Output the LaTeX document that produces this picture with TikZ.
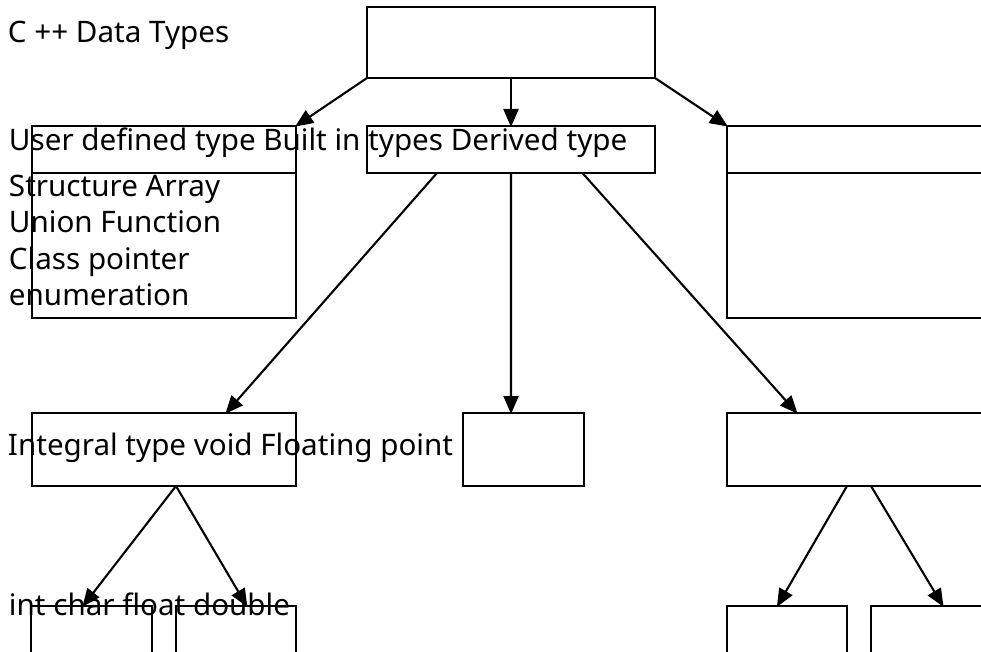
\documentclass[tikz,border=0pt]{standalone}
\usepackage{fontspec}
\setmainfont{Noto Sans}
\usetikzlibrary{arrows.meta,calc}
\begin{document}
\begin{tikzpicture}[x=1pt,y=-1pt,
  box/.style={draw,line width=2.1pt,rectangle,inner sep=0pt,outer sep=0pt,anchor=north west},
  lbl/.style={anchor=base west,inner sep=0pt,outer sep=0pt,font=\fontsize{29.6}{36}\selectfont},
  conn/.style={line width=2.1pt,-{Triangle[length=18pt,width=15pt]},shorten >=-1pt}]
\clip (0,0) rectangle (981,652);
\fill[white] (0,0) rectangle (981,652);
% boxes
\node[box,minimum width=288,minimum height=71] (top) at (367,7) {};
\node[box,minimum width=264,minimum height=192] (user) at (32,126) {};
\node[box,minimum width=288,minimum height=47] (builtin) at (367,126) {};
\node[box,minimum width=270,minimum height=192] (derived) at (727,126) {};
\node[box,minimum width=264,minimum height=73] (integral) at (32,413) {};
\node[box,minimum width=121,minimum height=73] (void) at (463,413) {};
\node[box,minimum width=270,minimum height=73] (floating) at (727,413) {};
\node[box,minimum width=121,minimum height=60] (int) at (31,606) {};
\node[box,minimum width=120,minimum height=60] (double) at (176,606) {};
\node[box,minimum width=120,minimum height=60] (bl) at (727,606) {};
\node[box,minimum width=120,minimum height=60] (br) at (871,606) {};
\coordinate (div) at (0,173);
\draw[line width=2.1pt] (user.west |- div) -- (user.east |- div);
\draw[line width=2.1pt] (derived.west |- div) -- (derived.east |- div);
% texts
\node[lbl] (title) at (8,43) {C ++ Data Types};
\node[lbl] (row1) at (9,151) {User defined type Built in types Derived type};
\node[lbl] (l1) at (9,197) {Structure Array};
\node[lbl] (l2) at (9,233) {Union Function};
\node[lbl] (l3) at (9,269) {Class pointer};
\node[lbl] (l4) at (9,305) {enumeration};
\node[lbl] (row2) at (8,455) {Integral type void Floating point};
\node[lbl] (row3) at (9,615) {int char float double};
% connectors
\draw[conn] (top.south west) -- (user.north east);
\draw[conn] ($(top.south west)!0.5!(top.south east)$) -- ($(builtin.north west)!0.5!(builtin.north east)$);
\draw[conn] (top.south east) -- (derived.north west);
\draw[conn] ($(builtin.south west)!0.243!(builtin.south east)$) -- ($(integral.north west)!0.735!(integral.north east)$);
\draw[conn] ($(builtin.south west)!0.5!(builtin.south east)$) -- ($(void.north west)!0.397!(void.north east)$);
\draw[conn] ($(builtin.south west)!0.748!(builtin.south east)$) -- ($(floating.north west)!0.259!(floating.north east)$);
\draw[conn] (integral.south -| double.north west) -- ($(int.north west)!0.43!(int.north east)$);
\draw[conn] (integral.south -| double.north west) -- ($(double.north west)!0.59!(double.north east)$);
\draw[conn] (floating.south -| bl.north east) -- ($(bl.north west)!0.42!(bl.north east)$);
\draw[conn] (floating.south -| br.north west) -- ($(br.north west)!0.6!(br.north east)$);
\end{tikzpicture}
\end{document}
